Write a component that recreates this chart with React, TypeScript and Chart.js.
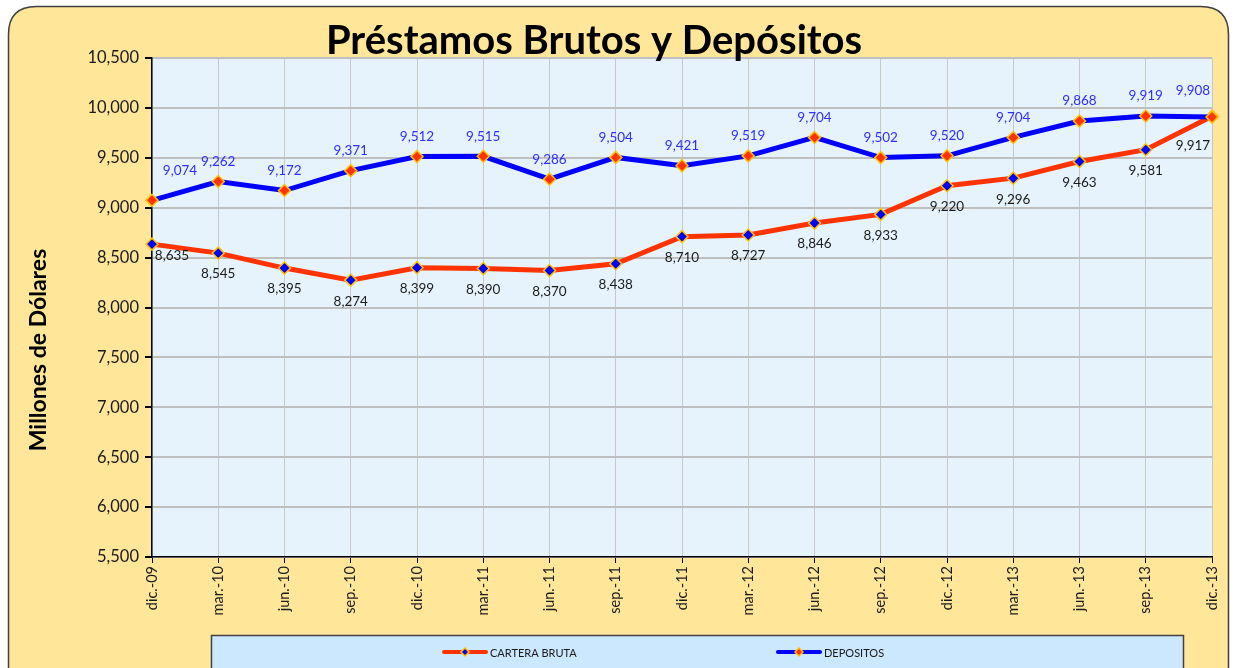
import React, { useEffect, useRef } from "react";
import { Chart, registerables } from "chart.js";

Chart.register(...registerables);

const categories = ["dic.-09", "mar.-10", "jun.-10", "sep.-10", "dic.-10", "mar.-11", "jun.-11", "sep.-11", "dic.-11", "mar.-12", "jun.-12", "sep.-12", "dic.-12", "mar.-13", "jun.-13", "sep.-13", "dic.-13"];
const carteraBruta = [8635, 8545, 8395, 8274, 8399, 8390, 8370, 8438, 8710, 8727, 8846, 8933, 9220, 9296, 9463, 9581, 9917];
const depositos = [9074, 9262, 9172, 9371, 9512, 9515, 9286, 9504, 9421, 9519, 9704, 9502, 9520, 9704, 9868, 9919, 9908];
const yMin = 5500;
const yMax = 10500;
const yStep = 500;
const chartTitle = "Préstamos Brutos y Depósitos";
const yAxisTitle = "Millones de Dólares";
const seriesNames = ["CARTERA BRUTA", "DEPOSITOS"];

const FONT = "Lato, 'Noto Sans', sans-serif";
const RED = "#FF3300";
const BLUE = "#0000FF";
const GOLD = "#FFC000";
const fmt = (v: number) => v.toLocaleString("en-US");

function roundRect(ctx: CanvasRenderingContext2D, x: number, y: number, w: number, h: number, r: number) {
  ctx.beginPath();
  ctx.moveTo(x + r, y);
  ctx.lineTo(x + w - r, y);
  ctx.quadraticCurveTo(x + w, y, x + w, y + r);
  ctx.lineTo(x + w, y + h - r);
  ctx.quadraticCurveTo(x + w, y + h, x + w - r, y + h);
  ctx.lineTo(x + r, y + h);
  ctx.quadraticCurveTo(x, y + h, x, y + h - r);
  ctx.lineTo(x, y + r);
  ctx.quadraticCurveTo(x, y, x + r, y);
  ctx.closePath();
}

function diamond(ctx: CanvasRenderingContext2D, x: number, y: number, r: number, fill: string) {
  ctx.beginPath();
  ctx.moveTo(x, y - r);
  ctx.lineTo(x + r, y);
  ctx.lineTo(x, y + r);
  ctx.lineTo(x - r, y);
  ctx.closePath();
  ctx.fillStyle = fill;
  ctx.fill();
  ctx.strokeStyle = GOLD;
  ctx.lineWidth = 1.5;
  ctx.stroke();
}

const decorPlugin = {
  id: "decor",
  beforeDraw(chart: any) {
    const ctx = chart.ctx as CanvasRenderingContext2D;
    const a = chart.chartArea;
    ctx.save();
    ctx.fillStyle = "#FFFFFF";
    ctx.fillRect(0, 0, chart.width, chart.height);
    roundRect(ctx, 8.5, 6.5, 1220, 700, 28);
    ctx.fillStyle = "#FFE699";
    ctx.fill();
    ctx.strokeStyle = "#404040";
    ctx.lineWidth = 1.5;
    ctx.stroke();
    ctx.fillStyle = "#E6F3FD";
    ctx.fillRect(a.left, a.top, a.right - a.left, a.bottom - a.top);
    ctx.restore();
  },
  afterDatasetsDraw(chart: any) {
    const ctx = chart.ctx as CanvasRenderingContext2D;
    const last = categories.length - 1;
    ctx.save();
    ctx.font = `13.5px ${FONT}`;
    ctx.textAlign = "center";
    ctx.textBaseline = "middle";
    const metaC = chart.getDatasetMeta(0);
    const metaD = chart.getDatasetMeta(1);
    ctx.fillStyle = "#1A1A1A";
    carteraBruta.forEach((v, i) => {
      const p = metaC.data[i];
      let dx = 0, dy = 21;
      if (i === 0) { dx = 20; dy = 12; }
      if (i === last) { dx = -19; dy = 29; }
      ctx.fillText(fmt(v), p.x + dx, p.y + dy);
    });
    ctx.fillStyle = "#2E2EFF";
    depositos.forEach((v, i) => {
      const p = metaD.data[i];
      let dx = 0, dy = -20;
      if (i === 0) { dx = 28; dy = -30; }
      if (i === last) { dx = -19; dy = -26; }
      ctx.fillText(fmt(v), p.x + dx, p.y + dy);
    });
    ctx.restore();
  },
  afterDraw(chart: any) {
    const ctx = chart.ctx as CanvasRenderingContext2D;
    ctx.save();
    // title
    ctx.fillStyle = "#000000";
    ctx.font = `bold 40px ${FONT}`;
    ctx.textAlign = "center";
    ctx.textBaseline = "alphabetic";
    ctx.fillText(chartTitle, 594, 54);
    // y axis title
    ctx.save();
    ctx.translate(39, 350);
    ctx.rotate(-Math.PI / 2);
    ctx.font = `bold 23px ${FONT}`;
    ctx.textBaseline = "middle";
    ctx.fillText(yAxisTitle, 0, 0);
    ctx.restore();
    // legend
    ctx.fillStyle = "#CCE8FE";
    ctx.fillRect(211.5, 635.5, 972, 40);
    ctx.strokeStyle = "#404040";
    ctx.lineWidth = 1.5;
    ctx.strokeRect(211.5, 635.5, 972, 40);
    const items = [
      { name: seriesNames[0], line: RED, marker: BLUE, x: 444 },
      { name: seriesNames[1], line: BLUE, marker: RED, x: 778 },
    ];
    const ly = 652;
    items.forEach((it) => {
      ctx.strokeStyle = it.line;
      ctx.lineWidth = 4;
      ctx.lineCap = "round";
      ctx.beginPath();
      ctx.moveTo(it.x, ly);
      ctx.lineTo(it.x + 42, ly);
      ctx.stroke();
      diamond(ctx, it.x + 21, ly, 4, it.marker);
      ctx.fillStyle = "#1A1A1A";
      ctx.font = `11px ${FONT}`;
      ctx.textAlign = "left";
      ctx.textBaseline = "middle";
      ctx.fillText(it.name, it.x + 46, ly + 1);
    });
    ctx.restore();
  },
};

export default function App() {
  const ref = useRef<HTMLCanvasElement | null>(null);
  useEffect(() => {
    document.body.style.margin = "0";
    const canvas = ref.current;
    if (!canvas) return;
    const chart = new Chart(canvas, {
      type: "line",
      data: {
        labels: categories,
        datasets: [
          {
            label: seriesNames[0],
            data: carteraBruta,
            borderColor: RED,
            borderWidth: 5,
            pointStyle: "rectRot",
            pointRadius: 6,
            pointBackgroundColor: BLUE,
            pointBorderColor: GOLD,
            pointBorderWidth: 1.5,
            tension: 0,
            order: 1,
          },
          {
            label: seriesNames[1],
            data: depositos,
            borderColor: BLUE,
            borderWidth: 5,
            pointStyle: "rectRot",
            pointRadius: 6,
            pointBackgroundColor: RED,
            pointBorderColor: GOLD,
            pointBorderWidth: 1.5,
            tension: 0,
            order: 0,
          },
        ],
      },
      options: {
        responsive: false,
        animation: false,
        layout: { padding: { left: 12, right: 24, top: 58, bottom: 0 } },
        plugins: {
          legend: { display: false },
          title: { display: false },
          tooltip: { enabled: false },
        },
        scales: {
          x: {
            offset: false,
            afterFit: (s: any) => { s.height = 111; },
            grid: { color: "#C8C8C8", lineWidth: 1, tickColor: "#000000", tickLength: 6 },
            border: { color: "#000000", width: 1.5 },
            ticks: {
              minRotation: 90,
              maxRotation: 90,
              autoSkip: false,
              padding: 3,
              color: "#1A1A1A",
              font: { family: FONT, size: 14.5 },
            },
          },
          y: {
            min: yMin,
            max: yMax,
            afterFit: (s: any) => { s.width = 140; },
            grid: { color: "#BFBFBF", lineWidth: 2, tickColor: "#000000", tickLength: 7 },
            border: { color: "#000000", width: 1.5 },
            ticks: {
              stepSize: yStep,
              padding: 6,
              color: "#1A1A1A",
              font: { family: FONT, size: 16.5 },
              callback: (v: any) => fmt(Number(v)),
            },
          },
        },
      },
      plugins: [decorPlugin],
    } as any);
    return () => chart.destroy();
  }, []);
  return (
    <div style={{ position: "fixed", left: 0, top: 0, width: 1236, height: 668 }}>
      <canvas ref={ref} width={1236} height={668} />
    </div>
  );
}
